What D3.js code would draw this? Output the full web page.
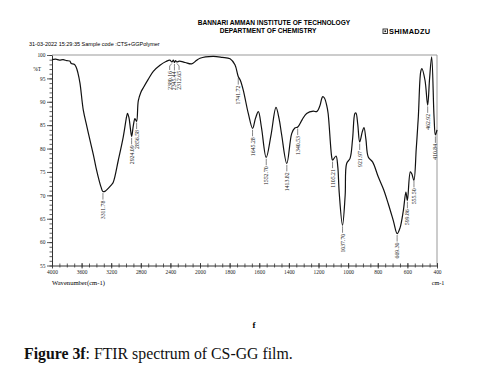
<!DOCTYPE html>
<html>
<head>
<meta charset="utf-8">
<script src="https://cdn.jsdelivr.net/npm/d3@7"></script>
<style>
  body { margin: 0; background: #fff; }
  svg { display: block; }
</style>
</head>
<body>
<div id="maincontent"></div>
<script>
var wavenumbers = [4000, 3950, 3900, 3850, 3800, 3760, 3740, 3700, 3676, 3650, 3622, 3577, 3530, 3487, 3440, 3406, 3360, 3338, 3312, 3280, 3240, 3200, 3172, 3104, 3037, 2992, 2980, 2960, 2940, 2924, 2900, 2879, 2857, 2834, 2800, 2766, 2700, 2631, 2541, 2460, 2406, 2380, 2360, 2345, 2330, 2312, 2280, 2200, 2113, 2050, 2000, 1912, 1850, 1797, 1764, 1742, 1728, 1708, 1674, 1645, 1625, 1606, 1585, 1553, 1520, 1487, 1465, 1449, 1414, 1381, 1360, 1340, 1310, 1280, 1235, 1212, 1190, 1178, 1171, 1160, 1145, 1135, 1111, 1105, 1082, 1070, 1060, 1038, 1020, 1010, 987, 970, 954, 947, 935, 922, 905, 893, 880, 864, 834, 796, 760, 729, 695, 669, 650, 627, 610, 600, 580, 570, 556, 540, 526, 510, 502, 481, 463, 450, 436, 420, 411, 400];
var transmittance = [99.0, 99.1, 98.9, 99.0, 98.8, 98.7, 98.2, 98.0, 97.5, 96.2, 94.0, 88.2, 84.8, 81.8, 78.6, 76.0, 73.0, 71.8, 70.8, 70.9, 71.5, 72.2, 72.8, 77.5, 82.5, 86.8, 87.5, 86.6, 84.2, 82.6, 85.0, 86.4, 85.8, 90.2, 92.0, 93.0, 94.8, 96.5, 97.8, 98.6, 98.9, 98.5, 98.9, 98.4, 98.8, 98.5, 98.7, 98.4, 98.1, 98.8, 99.3, 99.7, 99.5, 99.2, 97.9, 95.4, 94.6, 92.5, 87.5, 84.3, 86.5, 87.9, 84.5, 78.1, 83.0, 88.8, 86.2, 83.0, 76.8, 83.2, 84.4, 84.6, 86.2, 87.5, 88.0, 87.9, 89.2, 90.7, 91.1, 90.8, 89.3, 87.5, 78.2, 77.5, 78.4, 76.2, 70.5, 63.6, 70.0, 76.8, 77.9, 82.0, 87.5, 87.6, 85.2, 81.4, 83.5, 84.5, 82.0, 78.2, 77.1, 73.9, 71.2, 68.2, 64.6, 61.8, 63.0, 66.8, 70.7, 68.9, 75.0, 74.6, 73.2, 80.0, 86.8, 96.4, 97.1, 94.6, 89.3, 95.0, 99.6, 86.8, 82.9, 84.0];

// peak picking labels
var peaks = [3311.78, 2924.09, 2856.58, 2380.16, 2345.44, 2312.65, 1741.72, 1645.28, 1552.70, 1413.82, 1340.53, 1105.21, 1037.70, 921.97, 669.30, 599.86, 555.50, 462.92, 410.84];

// axes
var xTickValues = [4000, 3600, 3200, 2800, 2400, 2000, 1800, 1600, 1400, 1200, 1000, 800, 600, 400];
var yTickValues = [100, 95, 90, 85, 80, 75, 70, 65, 60, 55];

var width = 482, height = 369;
var plotLeft = 52, plotRight = 437, plotTop = 55, plotBottom = 265.5;

var svg = d3.select("#maincontent").append("svg")
    .attr("width", width)
    .attr("height", height);

// the shimadzu x axis changes scale at 2000 cm-1
var x = d3.scaleLinear()
    .domain([4000, 2000, 400])
    .range([plotLeft, 200, plotRight]);

var y = d3.scaleLinear()
    .domain([55, 100])
    .range([plotBottom, plotTop]);

// header
svg.append("text")
    .attr("x", 274).attr("y", 25)
    .attr("text-anchor", "middle")
    .style("font", "bold 6.6px 'Liberation Sans', Arial, sans-serif")
    .text("BANNARI AMMAN INSTITUTE OF TECHNOLOGY");
svg.append("text")
    .attr("x", 268).attr("y", 32.5)
    .attr("text-anchor", "middle")
    .style("font", "bold 6.6px 'Liberation Sans', Arial, sans-serif")
    .text("DEPARTMENT OF CHEMISTRY");

// shimadzu logo
var logo = svg.append("g").attr("transform", "translate(383, 29)");
logo.append("rect")
    .attr("width", 4.5).attr("height", 4.5)
    .attr("fill", "none").attr("stroke", "#222").attr("stroke-width", 0.9);
logo.append("rect")
    .attr("x", 1.4).attr("y", 1.4).attr("width", 1.7).attr("height", 1.7)
    .attr("fill", "#222");
svg.append("text")
    .attr("x", 389).attr("y", 33.6)
    .style("font", "bold 7.4px 'Liberation Sans', Arial, sans-serif")
    .style("letter-spacing", "0.3px")
    .text("SHIMADZU");

svg.append("text")
    .attr("x", 29).attr("y", 46)
    .style("font", "5.5px 'Liberation Sans', Arial, sans-serif")
    .text("31-03-2022 15:29:35 Sample code :CTS+GGPolymer");

// frame (top and right sides)
svg.append("path")
    .attr("d", "M" + plotLeft + "," + plotTop + "H" + plotRight + "V" + plotBottom)
    .attr("fill", "none")
    .attr("stroke", "#999")
    .attr("stroke-width", 1);

// y axis
var yMinor = d3.range(55, 101, 1);
var yAxisMinor = svg.append("g")
    .attr("transform", "translate(" + plotLeft + ",0)")
    .call(d3.axisLeft(y).tickValues(yMinor).tickSize(2.5).tickFormat(""));
yAxisMinor.select(".domain").remove();

var yAxis = svg.append("g")
    .attr("transform", "translate(" + plotLeft + ",0)")
    .call(d3.axisLeft(y).tickValues(yTickValues).tickSize(5).tickSizeOuter(0).tickPadding(1.5));
yAxis.selectAll("text")
    .style("font", "5.4px 'Liberation Serif', 'Times New Roman', serif")
    .attr("fill", "#222");

svg.append("text")
    .attr("x", 41).attr("y", 71)
    .attr("text-anchor", "end")
    .style("font", "5.4px 'Liberation Serif', 'Times New Roman', serif")
    .text("%T");

// x axis
var xMinor = d3.range(4000, 2000, -100).concat(d3.range(2000, 399, -50));
var xAxisMinor = svg.append("g")
    .attr("transform", "translate(0," + plotBottom + ")")
    .call(d3.axisBottom(x).tickValues(xMinor).tickSize(2).tickFormat(""));
xAxisMinor.select(".domain").remove();
xAxisMinor.selectAll("line").attr("y1", -2);

var xAxis = svg.append("g")
    .attr("transform", "translate(0," + plotBottom + ")")
    .call(d3.axisBottom(x).tickValues(xTickValues).tickFormat(d3.format("d"))
        .tickSize(3).tickSizeOuter(0).tickPadding(1.5));
xAxis.selectAll("line").attr("y1", -2.5);
xAxis.selectAll("text")
    .style("font", "5.4px 'Liberation Serif', 'Times New Roman', serif")
    .attr("fill", "#222");

svg.selectAll(".domain").attr("stroke", "#333");
svg.selectAll(".tick line").attr("stroke", "#333").attr("stroke-width", 0.8);

svg.append("text")
    .attr("x", 52).attr("y", 284.5)
    .style("font", "6.6px 'Liberation Serif', 'Times New Roman', serif")
    .text("Wavenumber(cm-1)");
svg.append("text")
    .attr("x", 438).attr("y", 284.5)
    .attr("text-anchor", "middle")
    .style("font", "6.2px 'Liberation Serif', 'Times New Roman', serif")
    .text("cm-1");

// spectrum
var spectrum = wavenumbers.map(function(w, i) {
    return { wn: w, t: transmittance[i] };
});

var line = d3.line()
    .x(d => x(d.wn))
    .y(d => y(d.t))
    .curve(d3.curveCatmullRom.alpha(0.5));

svg.append("path")
    .datum(spectrum)
    .attr("fill", "none")
    .attr("stroke", "#111")
    .attr("stroke-width", 1.2)
    .attr("d", line);

// %T of the curve at a wavenumber (linear between read points)
function tAt(w) {
    for (var i = 0; i < spectrum.length - 1; i++) {
        var a = spectrum[i], b = spectrum[i + 1];
        if (w <= a.wn && w >= b.wn) {
            return a.t + (b.t - a.t) * (a.wn - w) / (a.wn - b.wn);
        }
    }
    return spectrum[spectrum.length - 1].t;
}

// the three little peaks near 2350 are pushed apart like in the print
var spread = { "2380.16": -2.2, "2345.44": 0, "2312.65": 2.2 };

var labels = svg.append("g").attr("id", "peaks");
peaks.forEach(function(p) {
    var px = x(p), py = y(tAt(p));
    var dx = spread[p.toFixed(2)] || 0;
    var lx = px + dx;
    // leader
    labels.append("path")
        .attr("d", "M" + px + "," + (py + 1.5) + "L" + lx + "," + (py + 4) + "L" + lx + "," + (py + 8))
        .attr("fill", "none")
        .attr("stroke", "#333")
        .attr("stroke-width", 0.6);
    labels.append("text")
        .attr("transform", "translate(" + (lx + 2) + "," + (py + 9) + ") rotate(-90)")
        .attr("text-anchor", "end")
        .style("font", "5.8px 'Liberation Serif', 'Times New Roman', serif")
        .attr("fill", "#222")
        .text(p.toFixed(2));
});

// caption
svg.append("text")
    .attr("x", 254).attr("y", 328)
    .attr("text-anchor", "middle")
    .style("font", "bold 9px 'Liberation Serif', 'Times New Roman', serif")
    .text("f");

var cap = svg.append("text")
    .attr("x", 24).attr("y", 359)
    .style("font", "15.8px 'Liberation Serif', 'Times New Roman', serif")
    .attr("fill", "#111");
cap.append("tspan").style("font-weight", "bold").text("Figure 3f");
cap.append("tspan").text(": FTIR spectrum of CS-GG film.");
</script>
</body>
</html>
